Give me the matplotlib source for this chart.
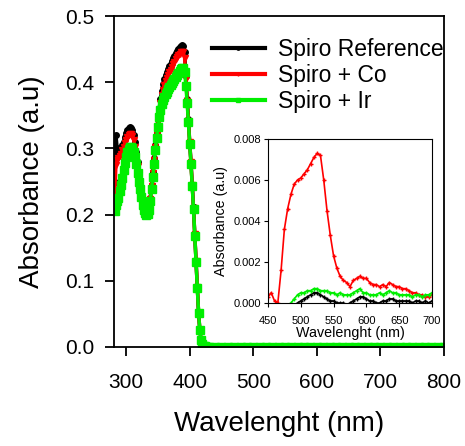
import numpy as np
import matplotlib
matplotlib.use('Agg')
import matplotlib.pyplot as plt

plt.rcParams['font.family'] = ['Liberation Sans', 'DejaVu Sans']

# UV-vis region of the main plot, 2 nm step
wl_uv = np.arange(282, 432, 2)
ref_uv = [0.25, 0.32, 0.30, 0.295, 0.295, 0.30, 0.305, 0.31, 0.318, 0.324,
          0.328, 0.331, 0.332, 0.331, 0.328, 0.32, 0.31, 0.295, 0.28, 0.265,
          0.25, 0.235, 0.222, 0.212, 0.205, 0.202, 0.203, 0.21, 0.225, 0.245,
          0.265, 0.285, 0.305, 0.325, 0.345, 0.36, 0.375, 0.387, 0.397, 0.405,
          0.411, 0.416, 0.42, 0.424, 0.428, 0.432, 0.436, 0.44, 0.444, 0.447,
          0.45, 0.453, 0.455, 0.456, 0.455, 0.445, 0.41, 0.375, 0.345, 0.31,
          0.28, 0.245, 0.211, 0.17, 0.13, 0.09, 0.052, 0.025, 0.01, 0.004,
          0.002, 0.001, 0.0005, 0.0003, 0.0002]
co_uv = [0.225, 0.275, 0.282, 0.285, 0.288, 0.292, 0.297, 0.302, 0.308, 0.313,
         0.317, 0.32, 0.322, 0.322, 0.319, 0.312, 0.302, 0.288, 0.274, 0.26,
         0.246, 0.232, 0.22, 0.211, 0.205, 0.203, 0.204, 0.21, 0.224, 0.243,
         0.263, 0.283, 0.302, 0.321, 0.34, 0.355, 0.369, 0.38, 0.389, 0.396,
         0.402, 0.407, 0.411, 0.415, 0.419, 0.423, 0.427, 0.431, 0.435, 0.438,
         0.441, 0.443, 0.445, 0.446, 0.445, 0.437, 0.405, 0.372, 0.342, 0.309,
         0.279, 0.244, 0.21, 0.17, 0.13, 0.09, 0.052, 0.025, 0.01, 0.004,
         0.002, 0.001, 0.0005, 0.0003, 0.0002]
ir_uv = [0.205, 0.215, 0.22, 0.225, 0.235, 0.245, 0.256, 0.267, 0.278, 0.287,
         0.294, 0.299, 0.302, 0.302, 0.30, 0.295, 0.287, 0.276, 0.263, 0.25,
         0.238, 0.226, 0.215, 0.207, 0.202, 0.20, 0.201, 0.207, 0.22, 0.238,
         0.257, 0.277, 0.297, 0.316, 0.333, 0.347, 0.358, 0.367, 0.373, 0.378,
         0.382, 0.386, 0.39, 0.393, 0.396, 0.399, 0.402, 0.405, 0.408, 0.411,
         0.414, 0.417, 0.42, 0.422, 0.422, 0.415, 0.395, 0.368, 0.34, 0.307,
         0.277, 0.243, 0.209, 0.168, 0.128, 0.089, 0.051, 0.025, 0.01, 0.004,
         0.002, 0.001, 0.0005, 0.0003, 0.0002]

# flat part of the main plot, 10 nm step
wl_flat = np.arange(440, 810, 10)
ref_flat = [0.0001, 0.0000, 0.0000, 0.0001, 0.0001, 0.0000, 0.0001, 0.0000,
            0.0000, 0.0001, 0.0000, 0.0000, 0.0001, 0.0000, 0.0000, 0.0001,
            0.0000, 0.0001, 0.0000, 0.0000, 0.0001, 0.0000, 0.0000, 0.0001,
            0.0000, 0.0000, 0.0001, 0.0000, 0.0000, 0.0001, 0.0000, 0.0000,
            0.0001, 0.0000, 0.0000, 0.0001, 0.0000]
co_flat = [0.0002, 0.0002, 0.0003, 0.0003, 0.0003, 0.0003, 0.0003, 0.0003,
           0.0003, 0.0002, 0.0002, 0.0002, 0.0002, 0.0002, 0.0002, 0.0002,
           0.0002, 0.0002, 0.0002, 0.0002, 0.0002, 0.0002, 0.0002, 0.0002,
           0.0002, 0.0002, 0.0002, 0.0001, 0.0001, 0.0001, 0.0001, 0.0001,
           0.0001, 0.0001, 0.0001, 0.0001, 0.0001]
ir_flat = [0.0004, 0.0004, 0.0004, 0.0004, 0.0004, 0.0004, 0.0004, 0.0004,
           0.0004, 0.0004, 0.0004, 0.0004, 0.0004, 0.0004, 0.0004, 0.0004,
           0.0004, 0.0004, 0.0004, 0.0004, 0.0004, 0.0004, 0.0004, 0.0004,
           0.0004, 0.0004, 0.0004, 0.0004, 0.0004, 0.0004, 0.0004, 0.0004,
           0.0004, 0.0004, 0.0004, 0.0004, 0.0004]

# visible region (inset), 5 nm step
wl_vis = np.arange(450, 705, 5)
ref_vis = [-0.0004, -0.0004, -0.0003, -0.0003, -0.0003, -0.0003, -0.0002, -0.0002, -0.0001, 0.0000,
           0.0001, 0.0002, 0.0003, 0.0004, 0.0005, 0.0005, 0.0004, 0.0003, 0.0002, 0.0001,
           0.0001, 0.0000, 0.0000, 0.0000, -0.0001, 0.0000, 0.0001, 0.0002, 0.0003, 0.0003,
           0.0002, 0.0001, 0.0001, 0.0000, 0.0000, 0.0001, 0.0001, 0.0002, 0.0002, 0.0001,
           0.0001, 0.0001, 0.0001, 0.0001, 0.0000, 0.0001, 0.0001, 0.0000, 0.0001, 0.0000,
           0.0001]
co_vis = [0.0003, 0.0005, 0.0001, 0.0000, 0.0016, 0.0036, 0.0046, 0.0053, 0.0058, 0.0060,
          0.0061, 0.0063, 0.0065, 0.0068, 0.0071, 0.0073, 0.0072, 0.0060, 0.0045, 0.0033,
          0.0023, 0.0017, 0.0013, 0.0011, 0.0010, 0.0008, 0.0011, 0.0012, 0.0013, 0.0012,
          0.0012, 0.0010, 0.0009, 0.0009, 0.0008, 0.0009, 0.0008, 0.0010, 0.0009, 0.0008,
          0.0008, 0.0007, 0.0007, 0.0006, 0.0005, 0.0005, 0.0004, 0.0004, 0.0003, 0.0003,
          0.0004]
ir_vis = [-0.0004, -0.0004, -0.0003, -0.0003, -0.0003, -0.0002, -0.0001, 0.0000, 0.0002, 0.0004,
          0.0005, 0.0005, 0.0006, 0.0006, 0.0007, 0.0007, 0.0006, 0.0006, 0.0006, 0.0005,
          0.0005, 0.0004, 0.0005, 0.0004, 0.0004, 0.0004, 0.0005, 0.0006, 0.0007, 0.0005,
          0.0005, 0.0004, 0.0004, 0.0004, 0.0005, 0.0004, 0.0005, 0.0006, 0.0005, 0.0005,
          0.0004, 0.0004, 0.0004, 0.0004, 0.0003, 0.0004, 0.0004, 0.0003, 0.0004, 0.0004,
          0.0005]

labels = ['Spiro Reference', 'Spiro + Co', 'Spiro + Ir']
colors = ['#000000', '#ff0000', '#00ee00']
markers = ['o', 'v', 's']
msize = [4, 4, 5.5]

wl_all = np.concatenate([wl_uv, wl_flat])
main_y = [np.concatenate([ref_uv, ref_flat]),
          np.concatenate([co_uv, co_flat]),
          np.concatenate([ir_uv, ir_flat])]
vis_y = [ref_vis, co_vis, ir_vis]

fig = plt.figure(figsize=(4.65, 4.46), dpi=100)
ax = fig.add_axes([0.2452, 0.222, 0.7097, 0.742])

for y, c, m, ms, lab in zip(main_y, colors, markers, msize, labels):
    ax.plot(wl_all, y, color=c, marker=m, markersize=ms, linewidth=2.5, label=lab)

ax.set_xlim(281, 800)
ax.set_ylim(0, 0.5)
ax.set_xticks([300, 400, 500, 600, 700, 800])
ax.set_yticks([0.0, 0.1, 0.2, 0.3, 0.4, 0.5])
ax.yaxis.set_major_formatter(matplotlib.ticker.FormatStrFormatter('%.1f'))
ax.tick_params(direction='out', length=6.5, width=1.3, labelsize=15)
ax.tick_params(axis='x', pad=12)
ax.tick_params(axis='y', pad=8)
for s in ax.spines.values():
    s.set_linewidth(1.3)
ax.set_xlabel('Wavelenght (nm)', fontsize=20, labelpad=14)
ax.set_ylabel('Absorbance (a.u)', fontsize=20, labelpad=14)

leg = ax.legend(loc='upper right', bbox_to_anchor=(1.0, 0.935), frameon=False,
                fontsize=16.5, handlelength=2.3, handletextpad=0.6, labelspacing=0.15,
                borderaxespad=0, borderpad=0, markerscale=0.6, numpoints=1)
for h in leg.get_lines():
    h.set_linewidth(3)

# inset
ax2 = fig.add_axes([0.5763, 0.3206, 0.3527, 0.3677])
for y, c, lab in zip(vis_y, colors, labels):
    ax2.plot(wl_vis, y, color=c, marker='+', markersize=3, linewidth=1.2)
ax2.set_xlim(450, 700)
ax2.set_ylim(0, 0.008)
ax2.set_xticks([450, 500, 550, 600, 650, 700])
ax2.set_yticks([0.0, 0.002, 0.004, 0.006, 0.008])
ax2.yaxis.set_major_formatter(matplotlib.ticker.FormatStrFormatter('%.3f'))
ax2.tick_params(direction='out', length=3, width=0.8, labelsize=8, pad=2)
ax2.tick_params(axis='x', pad=6)
for s in ax2.spines.values():
    s.set_linewidth(0.8)
ax2.set_xlabel('Wavelenght (nm)', fontsize=10.3, labelpad=0)
ax2.set_ylabel('Absorbance (a.u)', fontsize=10.3, labelpad=4)

fig.savefig('out.png', dpi=100)
